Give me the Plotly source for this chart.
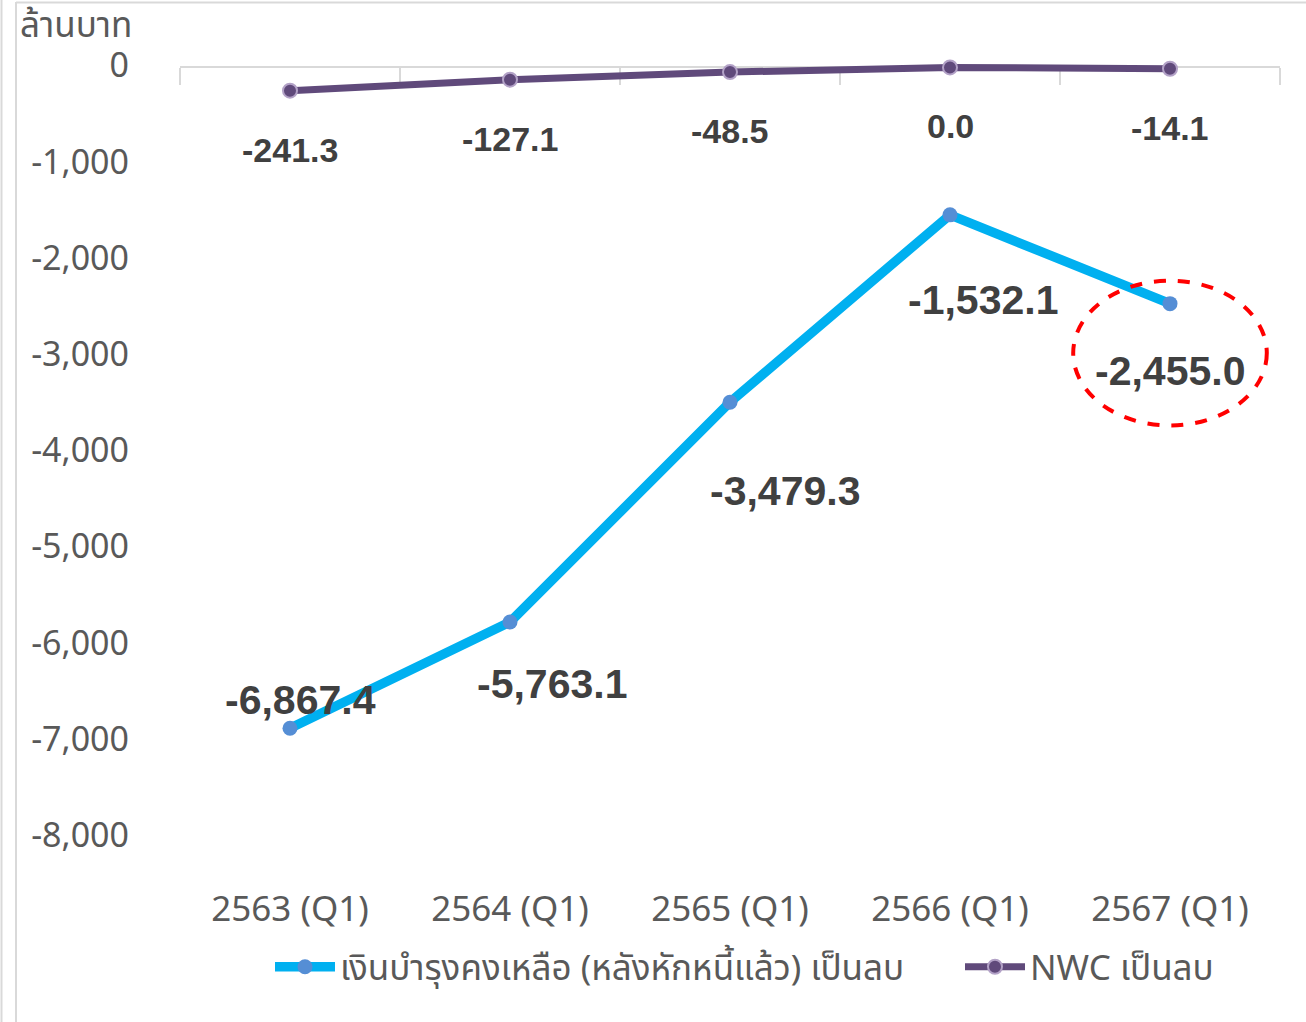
import plotly.graph_objects as go

categories = ["2563 (Q1)", "2564 (Q1)", "2565 (Q1)", "2566 (Q1)", "2567 (Q1)"]
cash_remaining = [-6867.4, -5763.1, -3479.3, -1532.1, -2455.0]
nwc_negative = [-241.3, -127.1, -48.5, 0.0, -14.1]
series_names = ["เงินบำรุงคงเหลือ (หลังหักหนี้แล้ว) เป็นลบ", "NWC เป็นลบ"]
y_tick_values = [0, -1000, -2000, -3000, -4000, -5000, -6000, -7000, -8000]
y_tick_labels = ["0", "-1,000", "-2,000", "-3,000", "-4,000", "-5,000", "-6,000", "-7,000", "-8,000"]
unit_label = "ล้านบาท"

W, H = 1306, 1022
ML, MR, MT, MB = 180, 26, 40, 137
YMIN, YMAX = -8496, 285

TICK_FONT = "Liberation Sans Narrow, Noto Sans Thai, Loma, Garuda, Liberation Sans, sans-serif"
LABEL_FONT = "Liberation Sans, Noto Sans Thai, Arial, sans-serif"

fig = go.Figure()
fig.add_trace(go.Scatter(
    x=categories, y=cash_remaining, name=series_names[0], mode="lines+markers",
    line=dict(color="#00B0F0", width=9.5),
    marker=dict(color="#558ED5", size=15, line=dict(width=0)),
    xaxis="x", yaxis="y", legend="legend",
))
fig.add_trace(go.Scatter(
    x=categories, y=nwc_negative, name=series_names[1], mode="lines+markers",
    line=dict(color="#604A7B", width=7),
    marker=dict(color="#604A7B", size=14, line=dict(color="#B3A2C7", width=2)),
    xaxis="x2", yaxis="y", legend="legend2",
))

# data labels
nwc_offsets = [(0, -59)] * len(nwc_negative)
cash_offsets = [(10, 28), (42, -62), (55, -89), (33, -85), (0, -67)]
for c, v, (dx, dy) in zip(categories, nwc_negative, nwc_offsets):
    fig.add_annotation(x=c, y=v, xref="x", yref="y", text=f"{v:,.1f}", showarrow=False,
                       xshift=dx, yshift=dy,
                       font=dict(family=LABEL_FONT, size=34, color="#404040", weight="bold"),
                       xanchor="center", yanchor="middle")
for c, v, (dx, dy) in zip(categories, cash_remaining, cash_offsets):
    fig.add_annotation(x=c, y=v, xref="x", yref="y", text=f"{v:,.1f}", showarrow=False,
                       xshift=dx, yshift=dy,
                       font=dict(family=LABEL_FONT, size=41, color="#404040", weight="bold"),
                       xanchor="center", yanchor="middle")


def px_x(p):
    return (p - ML) / (W - ML - MR)


def px_y(q):
    return (H - MB - q) / (H - MT - MB)


# unit title
fig.add_annotation(x=px_x(18), y=px_y(26), xref="paper", yref="paper",
                   text=unit_label, showarrow=False, xanchor="left", yanchor="middle",
                   font=dict(family=TICK_FONT, size=35, color="#595959"))

# highlight ellipse around last point label
fig.add_shape(type="circle", xref="x", yref="y", x0=3.56, x1=4.44, y0=-3721, y1=-2216,
              line=dict(color="#FF0000", width=4, dash="dash"))

# frame lines (chart border)
border = "#D9D9D9"
fig.add_shape(type="line", xref="paper", yref="paper", x0=px_x(1.5), x1=px_x(1.5), y0=px_y(0), y1=px_y(H),
              line=dict(color=border, width=2))
fig.add_shape(type="line", xref="paper", yref="paper", x0=px_x(16), x1=px_x(16), y0=px_y(2), y1=px_y(H),
              line=dict(color=border, width=2))
fig.add_shape(type="line", xref="paper", yref="paper", x0=px_x(16), x1=px_x(W), y0=px_y(2.5), y1=px_y(2.5),
              line=dict(color=border, width=2))

zero_pos = (0 - YMIN) / (YMAX - YMIN)
legend_font = dict(family=TICK_FONT, size=35, color="#595959")

fig.update_layout(
    width=W, height=H,
    margin=dict(l=ML, r=MR, t=MT, b=MB, autoexpand=False),
    paper_bgcolor="white", plot_bgcolor="white",
    showlegend=True,
    legend=dict(orientation="h", x=px_x(270), xanchor="left",
                y=px_y(967), yanchor="middle", font=legend_font,
                itemwidth=60, bgcolor="rgba(0,0,0,0)"),
    legend2=dict(orientation="h", x=px_x(960), xanchor="left",
                 y=px_y(967), yanchor="middle", font=legend_font,
                 itemwidth=60, bgcolor="rgba(0,0,0,0)"),
    xaxis=dict(type="category", categoryorder="array", categoryarray=categories,
               range=[-0.5, 4.5], showline=False, showgrid=False, zeroline=False, ticks="",
               tickfont=dict(family=TICK_FONT, size=35, color="#595959"), fixedrange=True),
    xaxis2=dict(type="category", categoryorder="array", categoryarray=categories,
                overlaying="x", anchor="free", position=zero_pos, side="bottom",
                range=[-0.5, 4.5], showline=True, linecolor="#D9D9D9", linewidth=2,
                ticks="outside", ticklen=17, tickwidth=2, tickcolor="#D9D9D9",
                tickson="boundaries", showticklabels=False, showgrid=False, zeroline=False,
                layer="below traces"),
    yaxis=dict(range=[YMIN, YMAX], tickvals=y_tick_values, ticktext=y_tick_labels,
               showline=False, showgrid=False, zeroline=False, ticks="",
               ticklabelstandoff=50, ticklabelshift=-2,
               tickfont=dict(family=TICK_FONT, size=34, color="#595959")),
)

fig.write_html("out.html", config={"displayModeBar": False},
               post_script="document.body.style.margin='0px';document.body.style.overflow='hidden';")
